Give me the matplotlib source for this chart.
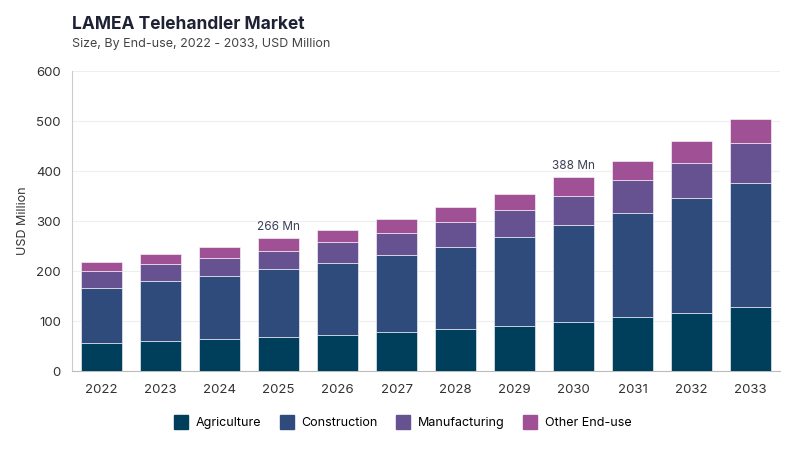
import numpy as np
import matplotlib.pyplot as plt
from matplotlib.lines import Line2D

plt.rcParams['font.family'] = ['Inter', 'DejaVu Sans']

years = ['2022', '2023', '2024', '2025', '2026', '2027', '2028', '2029', '2030', '2031', '2032', '2033']
agriculture = [57, 61, 64, 69, 73, 79, 85, 91, 99, 108, 117, 129]
construction = [110, 120, 127, 135, 144, 153, 164, 178, 194, 209, 230, 248]
manufacturing = [33, 34, 36, 37, 41, 45, 50, 54, 58, 66, 70, 79]
other = [18, 19, 21, 25, 25, 27, 30, 32, 37, 38, 44, 49]

series = ['Agriculture', 'Construction', 'Manufacturing', 'Other End-use']
colors = ['#003f5c', '#2f4b7c', '#665191', '#a05195']
labelled = {3: '266 Mn', 8: '388 Mn'}

fig = plt.figure(figsize=(8, 4.5), dpi=100)
ax = fig.add_axes([0.09, 0.175, 0.885, 0.667])

x = np.arange(len(years))
bottom = np.zeros(len(years))
for vals, c in zip([agriculture, construction, manufacturing, other], colors):
    ax.bar(x, vals, 0.71, bottom=bottom, color=c, edgecolor='#ffffff', linewidth=0.4, zorder=3)
    bottom += np.array(vals)

for i, txt in labelled.items():
    ax.text(x[i], bottom[i] + 11, txt, ha='center', va='bottom', fontsize=8.5, color='#3a3f55')

ax.set_xlim(-0.5, 11.5)
ax.set_ylim(0, 600)
ax.set_yticks(range(0, 601, 100))
ax.set_xticks(x)
ax.set_xticklabels(years)
ax.tick_params(axis='both', length=0, labelsize=9.5, colors='#333333')
ax.tick_params(axis='x', pad=9)
ax.tick_params(axis='y', pad=8)
ax.grid(axis='y', color='#eeeeee', linewidth=0.8, zorder=0)
for s in ['top', 'right']:
    ax.spines[s].set_visible(False)
ax.spines['left'].set_color('#cccccc')
ax.spines['bottom'].set_color('#bbbbbb')
ax.set_ylabel('USD Million', fontsize=9, color='#333333', labelpad=5)

fig.text(0.09, 0.935, 'LAMEA Telehandler Market', fontsize=12.5, fontweight='bold', color='#1e2233')
fig.text(0.09, 0.895, 'Size, By End-use, 2022 - 2033, USD Million', fontsize=9, color='#444444')

handles = [Line2D([], [], marker='s', linestyle='none', markersize=10, markerfacecolor=c,
                  markeredgecolor=c) for c in colors]
fig.legend(handles, series, loc='center', bbox_to_anchor=(0.5, 0.06), ncol=4, frameon=False,
           fontsize=9, handletextpad=0.2, columnspacing=1.0)

fig.savefig('out.png', dpi=100)
